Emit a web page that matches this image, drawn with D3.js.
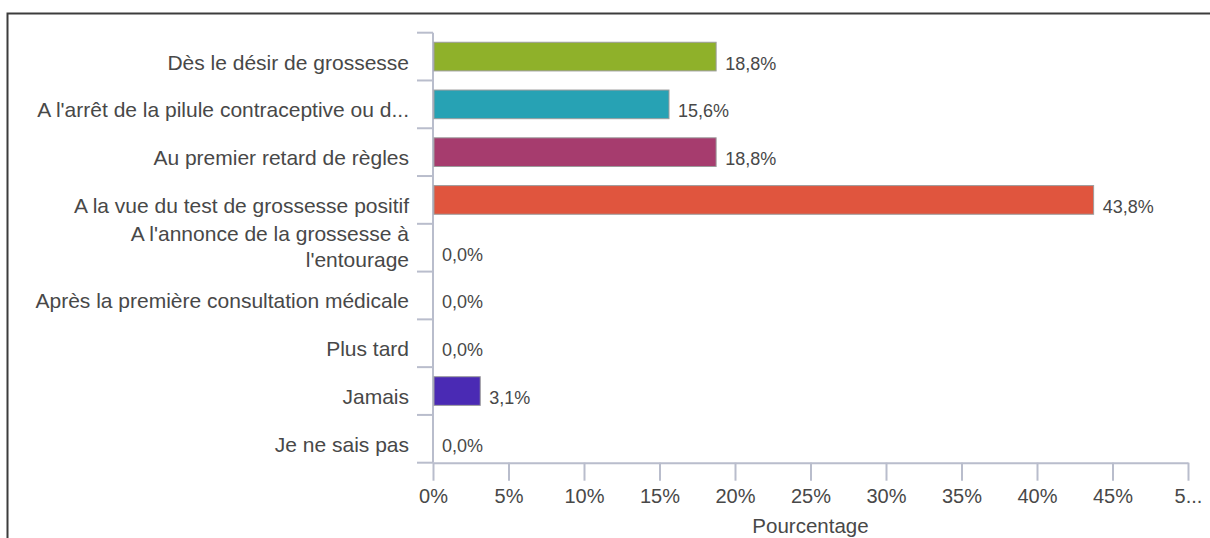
<!DOCTYPE html>
<html>
    <head>
        <title>Pourcentage</title>
        <script src="https://d3js.org/d3.v7.min.js"></script>
        <style>
            body {
                margin: 0;
                background: #fff;
            }
            svg text {
                font-family: 'Liberation Sans', Arial, sans-serif;
                fill: #484848;
            }
            .axis path,
            .axis line,
            .ytick {
                stroke: #b9bdcc;
                stroke-width: 2px;
            }
            .cat {
                font-size: 21px;
            }
            .val {
                font-size: 18px;
            }
        </style>
    </head>
    <body>
        <div id="chart"></div>
        <script>
            const categories = [
                'Dès le désir de grossesse',
                "A l'arrêt de la pilule contraceptive ou d...",
                'Au premier retard de règles',
                'A la vue du test de grossesse positif',
                "A l'annonce de la grossesse à\nl'entourage",
                'Après la première consultation médicale',
                'Plus tard',
                'Jamais',
                'Je ne sais pas'
            ];
            const values = [18.75, 15.63, 18.75, 43.75, 0, 0, 0, 3.13, 0];
            const colors = ['#8fb12a', '#27a2b4', '#a63c6e', '#e0553e', '#8fb12a', '#27a2b4', '#a63c6e', '#4a2ab4', '#e0553e'];
            const xTicks = [0, 5, 10, 15, 20, 25, 30, 35, 40, 45, 50];
            const xTickLabels = ['0%', '5%', '10%', '15%', '20%', '25%', '30%', '35%', '40%', '45%', '5...'];
            const xTitle = 'Pourcentage';

            const W = 1210,
                H = 538;
            const pLeft = 433,
                pRight = 1188,
                pTop = 32.7,
                pBottom = 462.7;

            const svg = d3.select('#chart').append('svg').attr('width', W).attr('height', H);

            // frame (cropped on right and bottom)
            svg.append('rect')
                .attr('x', 7.5)
                .attr('y', 13.5)
                .attr('width', 1400)
                .attr('height', 800)
                .attr('fill', 'none')
                .attr('stroke', '#3c3c3c')
                .attr('stroke-width', 2);

            const x = d3.scaleLinear().domain([0, 50]).range([pLeft, pRight]);
            const y = d3
                .scaleBand()
                .domain(d3.range(categories.length))
                .range([pTop, pBottom])
                .paddingInner(0.4)
                .paddingOuter(0.2);
            const step = y.step();
            const bound = (i) => y(0) - (step * 0.4) / 2 + i * step;

            // x axis
            const xAxis = svg
                .append('g')
                .attr('class', 'axis')
                .attr('transform', 'translate(0,' + pBottom + ')')
                .call(
                    d3
                        .axisBottom(x)
                        .tickValues(xTicks)
                        .tickSize(18)
                        .tickSizeOuter(0)
                        .tickPadding(8)
                        .tickFormat((d, i) => xTickLabels[i])
                );
            xAxis.selectAll('text').attr('font-size', 20).style('fill', '#484848');

            // y axis line and band ticks
            svg.append('line')
                .attr('class', 'ytick')
                .attr('x1', pLeft)
                .attr('x2', pLeft)
                .attr('y1', pTop)
                .attr('y2', pBottom);
            svg.selectAll('.yb')
                .data(d3.range(categories.length + 1))
                .enter()
                .append('line')
                .attr('class', 'ytick')
                .attr('x1', pLeft - 16)
                .attr('x2', pLeft)
                .attr('y1', (d) => bound(d))
                .attr('y2', (d) => bound(d));

            // bars
            const bars = svg.append('g');
            values.forEach((v, i) => {
                if (v > 0) {
                    bars.append('rect')
                        .attr('x', x(0) + 1)
                        .attr('y', y(i))
                        .attr('width', x(v) - x(0) - 1)
                        .attr('height', y.bandwidth())
                        .attr('fill', colors[i])
                        .attr('stroke', '#9c9c9c')
                        .attr('stroke-width', 1);
                }
            });

            // value labels
            svg.selectAll('.val')
                .data(values)
                .enter()
                .append('text')
                .attr('class', 'val')
                .attr('x', (d) => x(d) + 9)
                .attr('y', (d, i) => y(i) + y.bandwidth() / 2 + 13)
                .text((d) => d.toFixed(1).replace('.', ',') + '%');

            // category labels
            categories.forEach((c, i) => {
                const lines = c.split('\n');
                const cy = y(i) + y.bandwidth() / 2;
                const t = svg
                    .append('text')
                    .attr('class', 'cat')
                    .attr('text-anchor', 'end')
                    .attr('x', 409);
                lines.forEach((ln, k) => {
                    t.append('tspan')
                        .attr('x', 409)
                        .attr('y', cy + 13 - (lines.length - 1) * 19.5 + k * 26)
                        .text(ln);
                });
            });

            // axis title
            svg.append('text')
                .attr('text-anchor', 'middle')
                .attr('x', (pLeft + pRight) / 2)
                .attr('y', 533)
                .attr('font-size', 20.5)
                .text(xTitle);
        </script>
    </body>
</html>
